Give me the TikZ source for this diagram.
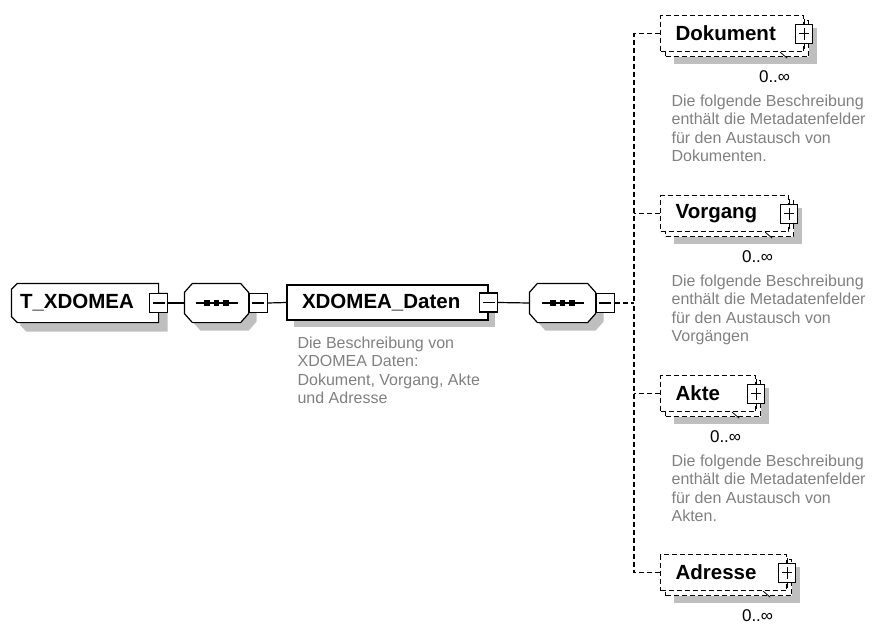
\documentclass[tikz,border=0pt]{standalone}
\usepackage{fontspec}
\setmainfont{Liberation Sans}
\usetikzlibrary{positioning,shadows,backgrounds}
% octagon of a sequence compositor round an empty node, with its line and dots
\newcommand{\seqshape}[1]{%
  \draw[boxshadow=8pt,fill=white] ([xshift=8pt]#1.north west) -- ([xshift=-8pt]#1.north east)
    -- ([yshift=-9pt]#1.north east) -- ([yshift=9pt]#1.south east) -- ([xshift=-8pt]#1.south east)
    -- ([xshift=8pt]#1.south west) -- ([yshift=9pt]#1.south west) -- ([yshift=-9pt]#1.north west) -- cycle;
  \draw ([xshift=-21pt]#1.center) -- ([xshift=21pt]#1.center);
  \foreach \d in {-9.5,0,9.5} \fill ([xshift=\d pt]#1.center) +(-2.7pt,-2.7pt) rectangle +(2.7pt,2.7pt);}

\begin{document}
\begin{tikzpicture}[x=1pt,y=-1pt,line width=1.2pt,
  lbl/.style={font=\bfseries\fontsize{20.5}{24}\selectfont},
  boxshadow/.style={drop shadow={shadow xshift=#1,shadow yshift=-#1,fill=black!25,opacity=1}},
  ctype/.style={minimum height=38pt,inner ysep=0pt,inner xsep=8pt,align=left,lbl},
  elem/.style={draw,fill=white,boxshadow=7pt,minimum height=35pt,inner ysep=0pt,inner xsep=15pt,align=left,lbl},
  seq/.style={minimum width=63pt,minimum height=38pt,inner sep=0pt},
  minusbox/.style={draw,solid,fill=white,minimum width=18pt,minimum height=19pt,inner sep=0pt,
    path picture={\draw ([xshift=-6pt]path picture bounding box.center) -- ([xshift=6pt]path picture bounding box.center);}},
  plusbox/.style={draw,solid,fill=white,minimum width=17pt,minimum height=19pt,inner sep=0pt,
    path picture={\draw ([xshift=-5pt]path picture bounding box.center) -- ([xshift=5pt]path picture bounding box.center)
      ([yshift=-6pt]path picture bounding box.center) -- ([yshift=6pt]path picture bounding box.center);}},
  ddash/.style={dash pattern=on 5pt off 3pt},
  opt/.style={draw,ddash,fill=white,drop shadow={shadow xshift=13pt,shadow yshift=-12pt,fill=black!25,opacity=1},
    copy shadow={shadow xshift=5pt,shadow yshift=-5pt,draw,ddash,fill=white},
    minimum height=36pt,inner ysep=0pt,inner xsep=15pt,align=left,anchor=north west,lbl},
  mult/.style={anchor=east,font=\fontsize{17}{20}\selectfont},
  note/.style={align=left,anchor=north west,inner sep=0pt,text=black!50,font=\fontsize{16}{18.5}\selectfont}]
\useasboundingbox (0,0) rectangle (878,624);

% root type and first sequence
\node[ctype,text width=130pt] (T) at (85,303) {T\_XDOMEA};
\begin{scope}[on background layer]
\draw[line width=1.2pt,boxshadow=9pt,fill=white] ([xshift=6pt]T.north west) -- (T.north east) -- (T.south east)
  -- ([xshift=6pt]T.south west) -- ([yshift=6pt]T.south west) -- ([yshift=-6pt]T.north west) -- cycle;
\end{scope}
\node[minusbox] (TM) at (T.east) {};
\node[seq] (S1) at (216.5,303) {};
\seqshape{S1}
\node[minusbox,right=0pt of S1] (S1M) {};
\node[elem,text width=171pt] (D) at (387.5,302.5) {XDOMEA\_Daten};
\node[minusbox] (DM) at (D.east) {};
\node[note] (DT) at (297,336) {Die Beschreibung von\\XDOMEA Daten:\\Dokument, Vorgang, Akte\\und Adresse};
\node[seq,minimum width=65pt] (S2) at (562.5,303) {};
\seqshape{S2}
\node[minusbox,right=0pt of S2] (S2M) {};
\coordinate (bus) at (634,303);

\draw (TM.east) -- (S1.west);
\draw (S1M.east) -- (D.west);
\draw (DM.east) -- (S2.west);
\draw[ddash] (S2M.east) -- (bus);

% child elements
\node[opt,text width=113pt] (Dok) at (660,15) {Dokument};
\node[plusbox] (DokP) at (Dok.east) {};
\draw (DokP.north) -- ++(0,-5) (DokP.south) -- ++(0,5);
\draw[line width=.8pt] ([xshift=-24pt]Dok.south east) -- ++(7,6);
\node[mult] (DokN) at (794,77) {0..∞};
\node[note] (DokT) at (671,94) {Die folgende Beschreibung\\enthält die Metadatenfelder\\für den Austausch von\\Dokumenten.};

\node[opt,text width=98pt] (Vor) at (660,195) {Vorgang};
\node[plusbox] (VorP) at (Vor.east) {};
\draw (VorP.north) -- ++(0,-5) (VorP.south) -- ++(0,5);
\draw[line width=.8pt] ([xshift=-24pt]Vor.south east) -- ++(7,6);
\node[mult] (VorN) at (777,257) {0..∞};
\node[note] (VorT) at (671,274) {Die folgende Beschreibung\\enthält die Metadatenfelder\\für den Austausch von\\Vorgängen};

\node[opt,text width=65pt] (Akt) at (660,375) {Akte};
\node[plusbox] (AktP) at (Akt.east) {};
\draw (AktP.north) -- ++(0,-5) (AktP.south) -- ++(0,5);
\draw[line width=.8pt] ([xshift=-24pt]Akt.south east) -- ++(7,6);
\node[mult] (AktN) at (745,437) {0..∞};
\node[note] (AktT) at (671,454) {Die folgende Beschreibung\\enthält die Metadatenfelder\\für den Austausch von\\Akten.};

\node[opt,text width=96pt] (Adr) at (660,554) {Adresse};
\node[plusbox] (AdrP) at (Adr.east) {};
\draw (AdrP.north) -- ++(0,-5) (AdrP.south) -- ++(0,5);
\draw[line width=.8pt] ([xshift=-24pt]Adr.south east) -- ++(7,6);
\node[mult] (AdrN) at (777,616) {0..∞};

\draw[ddash] (Dok.west) -| (bus);
\draw[ddash] (Adr.west) -| (bus);
\draw[ddash] (Vor.west) -- (Vor.west -| bus);
\draw[ddash] (Akt.west) -- (Akt.west -| bus);
\end{tikzpicture}
\end{document}
